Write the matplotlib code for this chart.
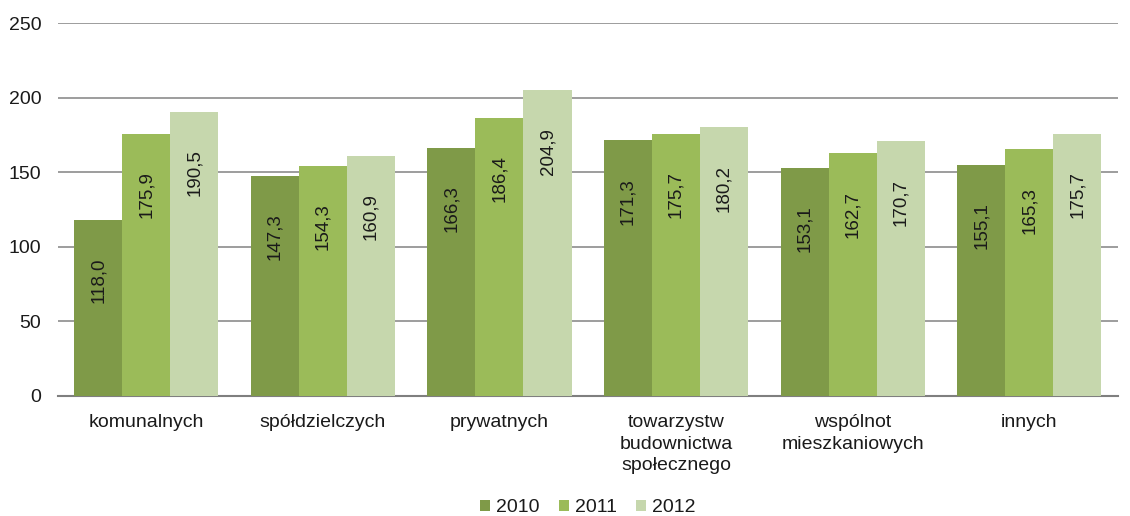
import numpy as np
import matplotlib
matplotlib.use('Agg')
import matplotlib.pyplot as plt

categories = ['komunalnych', 'spółdzielczych', 'prywatnych',
              'towarzystw\nbudownictwa\nspołecznego', 'wspólnot\nmieszkaniowych', 'innych']
years = ['2010', '2011', '2012']
v2010 = [118.0, 147.3, 166.3, 171.3, 153.1, 155.1]
v2011 = [175.9, 154.3, 186.4, 175.7, 162.7, 165.3]
v2012 = [190.5, 160.9, 204.9, 180.2, 170.7, 175.7]
colors = ['#7f9a48', '#9bbb59', '#c6d7ad']

plt.rcParams['font.family'] = ['Liberation Sans', 'DejaVu Sans']

fig = plt.figure(figsize=(11.3, 5.16), dpi=100)
ax = fig.add_axes([0.0513, 0.2326, 0.9377, 0.7228])

x = np.arange(len(categories))
w = 0.272
for i, (vals, yr) in enumerate(zip([v2010, v2011, v2012], years)):
    bars = ax.bar(x + (i - 1) * w, vals, w, color=colors[i], label=yr, zorder=3)
    for b, v in zip(bars, vals):
        ax.annotate(f'{v:.1f}'.replace('.', ','), (b.get_x() + b.get_width() / 2, v),
                    xytext=(0, -27), textcoords='offset points', rotation=90,
                    ha='center', va='top', fontsize=13.5, color='#1a1a1a', zorder=4)

ax.set_xlim(-0.5, len(categories) - 0.5)
ax.set_ylim(0, 250)
ax.set_yticks(range(0, 251, 50))
ax.yaxis.grid(True, color='#8c8c8c', linewidth=1.2, zorder=0)
for s in ['top', 'right', 'left']:
    ax.spines[s].set_visible(False)
ax.spines['bottom'].set_color('#7f7f7f')
ax.spines['bottom'].set_linewidth(1.5)
ax.tick_params(axis='y', length=0, pad=12, labelsize=14, labelcolor='#1a1a1a')
ax.tick_params(axis='x', length=0, pad=13, labelsize=14, labelcolor='#1a1a1a')
ax.set_xticks(x)
ax.set_xticklabels(categories, linespacing=1.35)

ax.legend(loc='center', bbox_to_anchor=(0.5, -0.3), ncol=3, frameon=False,
          fontsize=14, handlelength=0.5, handleheight=0.5, handletextpad=0.3,
          columnspacing=1.0, labelcolor='#1a1a1a')

fig.savefig('out.png', dpi=100)
